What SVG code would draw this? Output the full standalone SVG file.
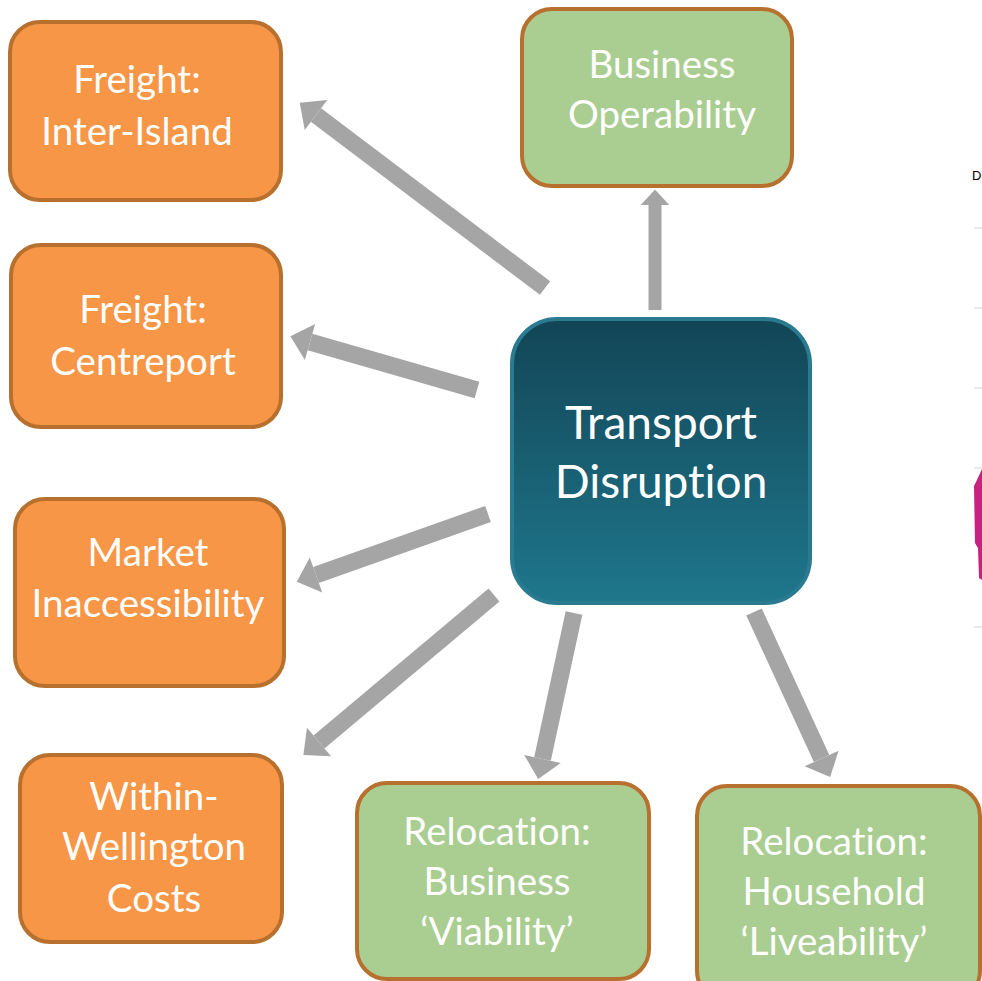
<svg xmlns="http://www.w3.org/2000/svg" width="982" height="981" viewBox="0 0 982 981">
<defs>
<style>
.orange rect{fill:#f79646;stroke:#b8702f;stroke-width:4}
.green rect{fill:#aacd91;stroke:#b8702f;stroke-width:4}
text{font-family:Lato,"Open Sans","DejaVu Sans",sans-serif;font-size:38.5px;fill:#ffffff;text-anchor:middle;font-variant-ligatures:none}
.big{font-size:46px}
.arr{stroke:#a5a5a5;stroke-width:17;fill:none;marker-end:url(#ah)}
.arrs{stroke:#a5a5a5;stroke-width:13;fill:none;marker-end:url(#ah)}
.frag{stroke:#e3e3e3;stroke-width:1.5}
</style>
<marker id="ah" viewBox="0 -1.1 1.2 2.2" refX="0" refY="0" markerWidth="1.2" markerHeight="2.2" markerUnits="strokeWidth" orient="auto" overflow="visible">
<path d="M0,-1.1 L1.2,0 L0,1.1 Z" fill="#a5a5a5"/>
</marker>
<linearGradient id="tg" x1="0" y1="0" x2="0" y2="1">
<stop offset="0" stop-color="#124556"/>
<stop offset="1" stop-color="#1f778c"/>
</linearGradient>
</defs>
<rect width="982" height="981" fill="#ffffff"/>

<g id="fragments">
<line class="frag" x1="974" y1="228" x2="982" y2="228"/>
<line class="frag" x1="974" y1="308" x2="982" y2="308"/>
<line class="frag" x1="974" y1="388" x2="982" y2="388"/>
<line class="frag" x1="974" y1="468" x2="982" y2="468"/>
<line class="frag" x1="974" y1="627" x2="982" y2="627"/>
<polygon points="976,482 982,469 982,580 979,578 978,548 975,543 974,486" fill="#c8217f"/>
<text x="972" y="180" style="font-family:'Liberation Sans',sans-serif;font-size:13px;fill:#000;text-anchor:start">D</text>
</g>

<g id="connectors">
<line class="arr" x1="545" y1="288" x2="316" y2="115"/>
<line class="arr" x1="477" y1="390" x2="310" y2="342"/>
<line class="arr" x1="488" y1="514" x2="316" y2="575"/>
<line class="arr" x1="494" y1="595" x2="319" y2="742"/>
<line class="arrs" x1="655" y1="310" x2="655" y2="205"/>
<line class="arr" x1="574" y1="613" x2="542.5" y2="759"/>
<line class="arr" x1="754" y1="612" x2="821.6" y2="758.5"/>
</g>

<g id="n-freight-inter-island" class="orange">
<rect x="10" y="22" width="271" height="178" rx="30"/>
<text x="137" y="93">Freight:</text>
<text x="137" y="145">Inter-Island</text>
</g>
<g id="n-freight-centreport" class="orange">
<rect x="11" y="245" width="270" height="182" rx="30"/>
<text x="143" y="323">Freight:</text>
<text x="143" y="375">Centreport</text>
</g>
<g id="n-market" class="orange">
<rect x="15" y="499" width="269" height="187" rx="30"/>
<text x="148" y="566">Market</text>
<text x="148" y="617">Inaccessibility</text>
</g>
<g id="n-within-wellington" class="orange">
<rect x="20" y="755" width="262" height="187" rx="30"/>
<text x="154" y="810">Within-</text>
<text x="154" y="860">Wellington</text>
<text x="154" y="912">Costs</text>
</g>
<g id="n-business-operability" class="green">
<rect x="522" y="9" width="270" height="177" rx="30"/>
<text x="662" y="78">Business</text>
<text x="662" y="128">Operability</text>
</g>
<g id="n-transport-disruption">
<rect x="512" y="319" width="298" height="284" rx="45" fill="url(#tg)" stroke="#2a7b90" stroke-width="4"/>
<text class="big" x="661" y="439">Transport</text>
<text class="big" x="661" y="498">Disruption</text>
</g>
<g id="n-relocation-business" class="green">
<rect x="357" y="783" width="292" height="196" rx="30"/>
<text x="497" y="845">Relocation:</text>
<text x="497" y="895">Business</text>
<text x="497" y="945">‘Viability’</text>
</g>
<g id="n-relocation-household" class="green">
<rect x="697" y="786" width="283" height="215" rx="30"/>
<text x="834" y="855">Relocation:</text>
<text x="834" y="905">Household</text>
<text x="834" y="955">‘Liveability’</text>
</g>
</svg>
